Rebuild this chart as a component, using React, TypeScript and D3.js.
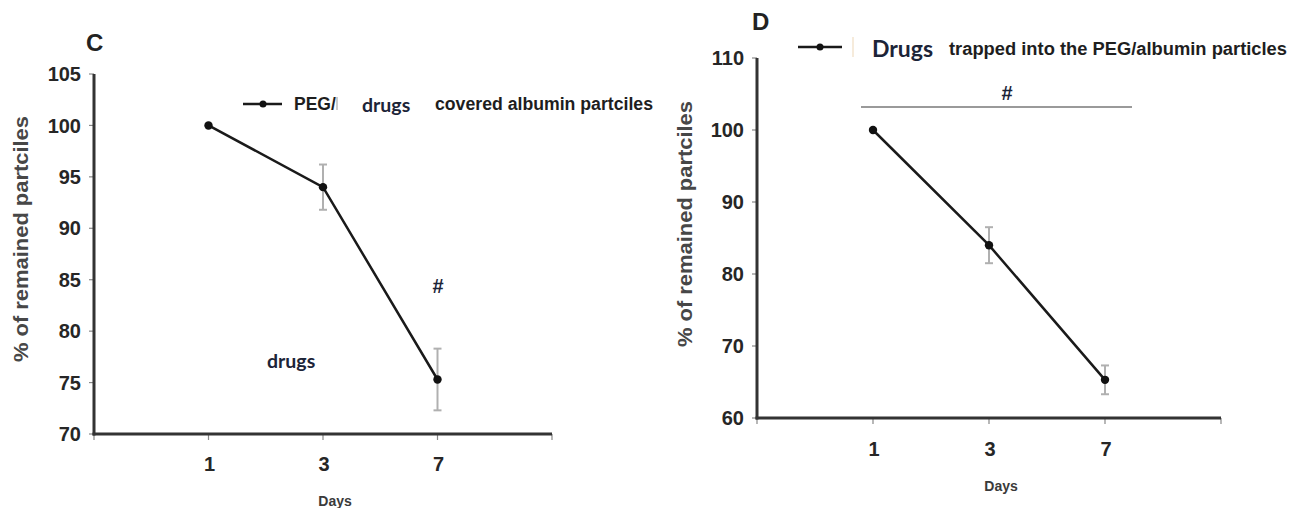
import React from "react";
import * as d3 from "d3";

// Panel C data
const daysC = ["1", "3", "7"];
const valuesC = [100, 94.0, 75.3];
const errorsC = [0, 2.2, 3.0];
const yTicksC = [70, 75, 80, 85, 90, 95, 100, 105];

// Panel D data
const daysD = ["1", "3", "7"];
const valuesD = [100, 84.0, 65.3];
const errorsD = [0, 2.5, 2.0];
const yTicksD = [60, 70, 80, 90, 100, 110];

const ARIAL = "'Liberation Sans', Arial, sans-serif";
const CAL = "Lato, 'Open Sans', sans-serif";

type PanelProps = {
  days: string[];
  values: number[];
  errors: number[];
  yTicks: number[];
  yDomain: [number, number];
  yRange: [number, number];
  xRange: [number, number];
  titleX: number;
  titleY: number;
  daysY: number;
  tickLabelY: number;
};

function Panel(p: PanelProps) {
  const y = d3.scaleLinear().domain(p.yDomain).range(p.yRange);
  const x = d3.scaleLinear().domain([0, p.days.length + 1]).range(p.xRange);
  const line = d3
    .line<number>()
    .x((_, i) => x(i + 1))
    .y((d) => y(d));
  const x0 = p.xRange[0];
  const yBottom = p.yRange[0];
  const xTickIdx = d3.range(0, p.days.length + 2);
  return (
    <g>
      {p.yTicks.map((t) => (
        <g key={"yt" + t}>
          <line x1={x0 - 5} x2={x0} y1={y(t)} y2={y(t)} stroke="#888" strokeWidth={1.2} />
          <text
            x={x0 - 13}
            y={y(t)}
            dy="0.36em"
            textAnchor="end"
            fontFamily={ARIAL}
            fontWeight="bold"
            fontSize={20}
            fill="#262626"
          >
            {t}
          </text>
        </g>
      ))}
      {xTickIdx.map((i) => (
        <line key={"xt" + i} x1={x(i)} x2={x(i)} y1={yBottom} y2={yBottom + 6} stroke="#888" strokeWidth={1.2} />
      ))}
      {p.days.map((d, i) => (
        <text
          key={"xl" + d}
          x={x(i + 1) + 1}
          y={p.tickLabelY}
          textAnchor="middle"
          fontFamily={ARIAL}
          fontWeight="bold"
          fontSize={20}
          fill="#262626"
        >
          {d}
        </text>
      ))}
      <line x1={x0} x2={x0} y1={p.yRange[1]} y2={yBottom + 1.5} stroke="#333" strokeWidth={3} />
      <line x1={x0 - 1.5} x2={p.xRange[1]} y1={yBottom} y2={yBottom} stroke="#333" strokeWidth={3} />
      <text
        transform={`translate(${p.titleX},${p.titleY}) rotate(-90)`}
        textAnchor="middle"
        fontFamily={ARIAL}
        fontWeight="bold"
        fontSize={20}
        fill="#474747"
        textLength={246}
        lengthAdjust="spacingAndGlyphs"
      >
        % of remained partciles
      </text>
      <text
        x={x(2) + 12}
        y={p.daysY}
        textAnchor="middle"
        fontFamily={ARIAL}
        fontWeight="bold"
        fontSize={14}
        fill="#3a3a3a"
      >
        Days
      </text>
      {p.values.map((v, i) =>
        p.errors[i] > 0 ? (
          <g key={"eb" + i} stroke="#b0b0b0" strokeWidth={2}>
            <line x1={x(i + 1)} x2={x(i + 1)} y1={y(v - p.errors[i])} y2={y(v + p.errors[i])} />
            <line x1={x(i + 1) - 4} x2={x(i + 1) + 4} y1={y(v - p.errors[i])} y2={y(v - p.errors[i])} />
            <line x1={x(i + 1) - 4} x2={x(i + 1) + 4} y1={y(v + p.errors[i])} y2={y(v + p.errors[i])} />
          </g>
        ) : null
      )}
      <path d={line(p.values) || ""} fill="none" stroke="#1a1a1a" strokeWidth={2.5} />
      {p.values.map((v, i) => (
        <circle key={"pt" + i} cx={x(i + 1)} cy={y(v)} r={4.2} fill="#111" />
      ))}
    </g>
  );
}

export default function App() {
  return (
    <svg
      width={1289}
      height={508}
      viewBox="0 0 1289 508"
      style={{ position: "absolute", left: 0, top: 0, background: "#fff" }}
    >
      <rect width={1289} height={508} fill="#fff" />
      {/* Panel C */}
      <text x={86} y={51} fontFamily={ARIAL} fontWeight="bold" fontSize={24} fill="#222">
        C
      </text>
      <Panel
        days={daysC}
        values={valuesC}
        errors={errorsC}
        yTicks={yTicksC}
        yDomain={[70, 105]}
        yRange={[434, 74]}
        xRange={[94, 552]}
        titleX={28}
        titleY={239}
        daysY={506}
        tickLabelY={471}
      />
      <line x1={243} x2={282} y1={104} y2={104} stroke="#1a1a1a" strokeWidth={2.5} />
      <circle cx={263} cy={104} r={3.5} fill="#111" />
      <text x={294} y={110} fontFamily={ARIAL} fontWeight="bold" fontSize={17.5} fill="#1e1e1e">
        PEG/
      </text>
      <line x1={337} x2={337} y1={97} y2={110} stroke="#bbb" strokeWidth={1.5} />
      <text x={362} y={112} fontFamily={CAL} fontWeight="bold" fontSize={19.5} fill="#1c2438">
        drugs
      </text>
      <text
        x={435}
        y={110}
        fontFamily={ARIAL}
        fontWeight="bold"
        fontSize={17.5}
        fill="#1e1e1e"
        textLength={218}
        lengthAdjust="spacingAndGlyphs"
      >
        covered albumin partciles
      </text>
      <text x={267} y={368} fontFamily={CAL} fontWeight="bold" fontSize={19.5} fill="#1c2438">
        drugs
      </text>
      <text x={438} y={293} textAnchor="middle" fontFamily={ARIAL} fontWeight="bold" fontSize={20} fill="#1c2438">
        #
      </text>

      {/* Panel D */}
      <text x={752} y={30} fontFamily={ARIAL} fontWeight="bold" fontSize={24} fill="#222">
        D
      </text>
      <Panel
        days={daysD}
        values={valuesD}
        errors={errorsD}
        yTicks={yTicksD}
        yDomain={[60, 110]}
        yRange={[418, 58]}
        xRange={[757, 1221]}
        titleX={692}
        titleY={224}
        daysY={491}
        tickLabelY={456}
      />
      <line x1={798} x2={842} y1={47} y2={47} stroke="#1a1a1a" strokeWidth={2.5} />
      <circle cx={820} cy={47} r={3.5} fill="#111" />
      <line x1={853} x2={853} y1={37} y2={57} stroke="#f3e4cf" strokeWidth={1.5} />
      <text x={872} y={57} fontFamily={CAL} fontWeight="bold" fontSize={23} fill="#1c2438">
        Drugs
      </text>
      <text
        x={949}
        y={55}
        fontFamily={ARIAL}
        fontWeight="bold"
        fontSize={18}
        fill="#1e1e1e"
        textLength={338}
        lengthAdjust="spacingAndGlyphs"
      >
        trapped into the PEG/albumin particles
      </text>
      <line x1={861} x2={1132} y1={107} y2={107} stroke="#9a9a9a" strokeWidth={2} />
      <text x={1007} y={100} textAnchor="middle" fontFamily={ARIAL} fontWeight="bold" fontSize={20} fill="#1c2438">
        #
      </text>
    </svg>
  );
}
